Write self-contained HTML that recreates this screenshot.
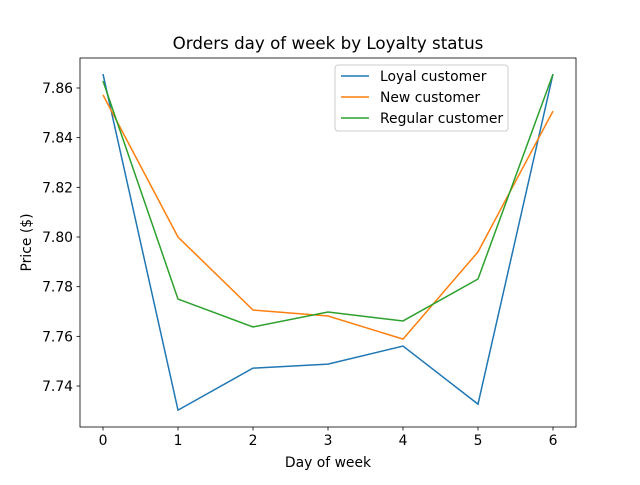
<!DOCTYPE html>
<html><head><meta charset="utf-8"><style>
body{margin:0;background:#fff;}
svg{font-family:"DejaVu Sans","Liberation Sans",sans-serif;}
</style></head><body>
<svg id="chart" width="640" height="480">
<rect x="0" y="0" width="640" height="480" fill="#fff"/>
<text x="328" y="49" font-size="16.7" text-anchor="middle">Orders day of week by Loyalty status</text>
<g id="plot"></g>
<rect x="80" y="58" width="496" height="369" fill="none" stroke="#000" stroke-width="0.8"/>
<text x="328" y="467" font-size="13.9" text-anchor="middle">Day of week</text>
<text transform="translate(31,242.5) rotate(-90)" font-size="13.9" text-anchor="middle">Price ($)</text>
<g id="legend">
<rect x="335" y="65" width="173" height="66" rx="3" fill="#fff" fill-opacity="0.8" stroke="#ccc" stroke-width="1"/>
</g>
</svg>
<script>
const days=[0,1,2,3,4,5,6];
const loyal=[7.8656,7.7303,7.7472,7.7488,7.7561,7.7327,7.8656];
const newer=[7.8572,7.8000,7.7706,7.7682,7.7589,7.7940,7.8507];
const regular=[7.8628,7.7750,7.7638,7.7698,7.7662,7.7831,7.8656];
const yTicks=[7.74,7.76,7.78,7.80,7.82,7.84,7.86];
const xTicks=[0,1,2,3,4,5,6];
const seriesNames=["Loyal customer","New customer","Regular customer"];
const colors=["#1f77b4","#ff7f0e","#2ca02c"];
const NS="http://www.w3.org/2000/svg";
function X(v){return 103+v*75;}
function Y(v){return 88+(7.86-v)/0.02*49.67;}
const plot=document.getElementById('plot');
function mk(t,a,p){const e=document.createElementNS(NS,t);for(const k in a)e.setAttribute(k,a[k]);(p||plot).appendChild(e);return e;}
xTicks.forEach(t=>{
 const l=mk('line',{x1:X(t),x2:X(t),y1:427,y2:430.5,stroke:'#000','stroke-width':0.8});
 
 
 const tx=mk('text',{x:X(t),y:445,'font-size':13.9,'text-anchor':'middle'});tx.textContent=t;
 
 
});
yTicks.forEach(t=>{
 const l=mk('line',{x1:76.5,x2:80,y1:Y(t),y2:Y(t),stroke:'#000','stroke-width':0.8});
 
 
 const tx=mk('text',{x:73,y:Y(t)+5,'font-size':13.9,'text-anchor':'end'});tx.textContent=t.toFixed(2);
 
 
});
[loyal,newer,regular].forEach((s,i)=>{
 const p=mk('polyline',{points:s.map((v,j)=>X(days[j])+','+Y(v)).join(' '),fill:'none',stroke:colors[i],'stroke-width':1.5});
 
 
});
const lg=document.getElementById('legend');
seriesNames.forEach((n,i)=>{
 const y=76+i*21;
 const l=mk('line',{x1:341,x2:369,y1:y,y2:y,stroke:colors[i],'stroke-width':1.5},lg);
 
 
 const t=mk('text',{x:380,y:y+5,'font-size':13.9},lg);t.textContent=n;
 
 
});
</script>
</body></html>
